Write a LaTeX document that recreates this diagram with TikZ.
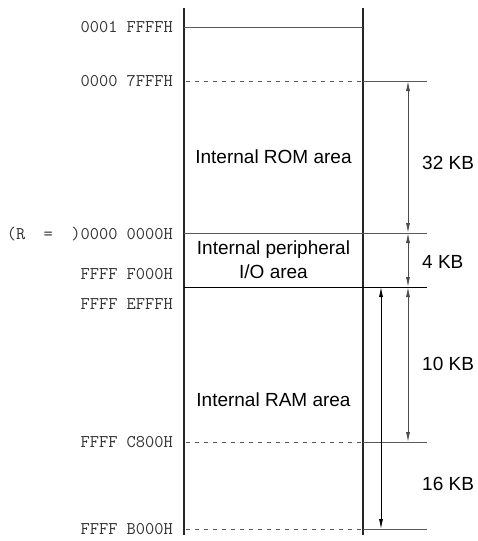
\documentclass[tikz,border=0pt]{standalone}
\usepackage{fontspec}
\setmainfont{Liberation Sans}
\usetikzlibrary{arrows.meta}

\begin{document}
\begin{tikzpicture}[x=1pt,y=-1pt,
		addr/.style={anchor=east,inner sep=0pt,font=\fontsize{17.9}{20}\selectfont\ttfamily,text=black!80},
		area/.style={align=center,inner sep=0pt,font=\fontsize{19}{24}\selectfont},
		sizelbl/.style={anchor=west,inner sep=0pt,font=\fontsize{19}{22}\selectfont},
		bound/.style={gray!70!black,line width=0.9pt},
		rail/.style={black!85,line width=2pt},
		dim/.style={{Latex[length=10pt,width=4pt]}-{Latex[length=10pt,width=4pt]},line width=0.8pt}]
	\useasboundingbox (0,0) rectangle (478,541);
	% map rails
	\draw[rail] (184,8) -- (184,535);
	\draw[rail] (363,8) -- (363,535);
	% boundaries
	\draw[bound] (184,27) -- (363,27);
	\foreach \y in {81,442,529}{
		\draw[bound,dash pattern=on 4pt off 5pt] (186,\y) -- (363,\y);
		\draw[bound] (363,\y) -- (427,\y);
	}
	\draw[bound] (184,233) -- (427,233);
	\draw[black,line width=0.9pt] (184,287) -- (427,287);
	% sizes
	\coordinate (r0) at (408,81);
	\coordinate (r1) at (408,233);
	\coordinate (r2) at (408,287);
	\coordinate (r3) at (408,442);
	\coordinate (s0) at (381,287);
	\coordinate (s1) at (381,529);
	\draw[dim,gray!60!black] (r0) -- (r1);
	\draw[dim,gray!60!black] (r1) -- (r2);
	\draw[dim,gray!60!black] (r2) -- (r3);
	\draw[dim,black] (s0) -- (s1);
	% addresses
	\node[addr] (a0) at (173,27) {0001 FFFFH};
	\node[addr] (a1) at (173,81) {0000 7FFFH};
	\node[addr] (a2) at (173,234) {(R~~=~~)0000 0000H};
	\node[addr] (a3) at (173,274) {FFFF F000H};
	\node[addr] (a4) at (173,304) {FFFF EFFFH};
	\node[addr] (a5) at (173,442) {FFFF C800H};
	\node[addr] (a6) at (173,529) {FFFF B000H};
	% areas
	\node[area] (rom) at (273.5,157) {Internal ROM area};
	\node[area] (pio) at (273.5,260) {Internal peripheral\\I/O area};
	\node[area] (ram) at (273.5,400) {Internal RAM area};
	\node[sizelbl] (k32) at (422,163) {32 KB};
	\node[sizelbl] (k4) at (422,262) {4 KB};
	\node[sizelbl] (k10) at (422,364) {10 KB};
	\node[sizelbl] (k16) at (422,484) {16 KB};
\end{tikzpicture}
\end{document}
